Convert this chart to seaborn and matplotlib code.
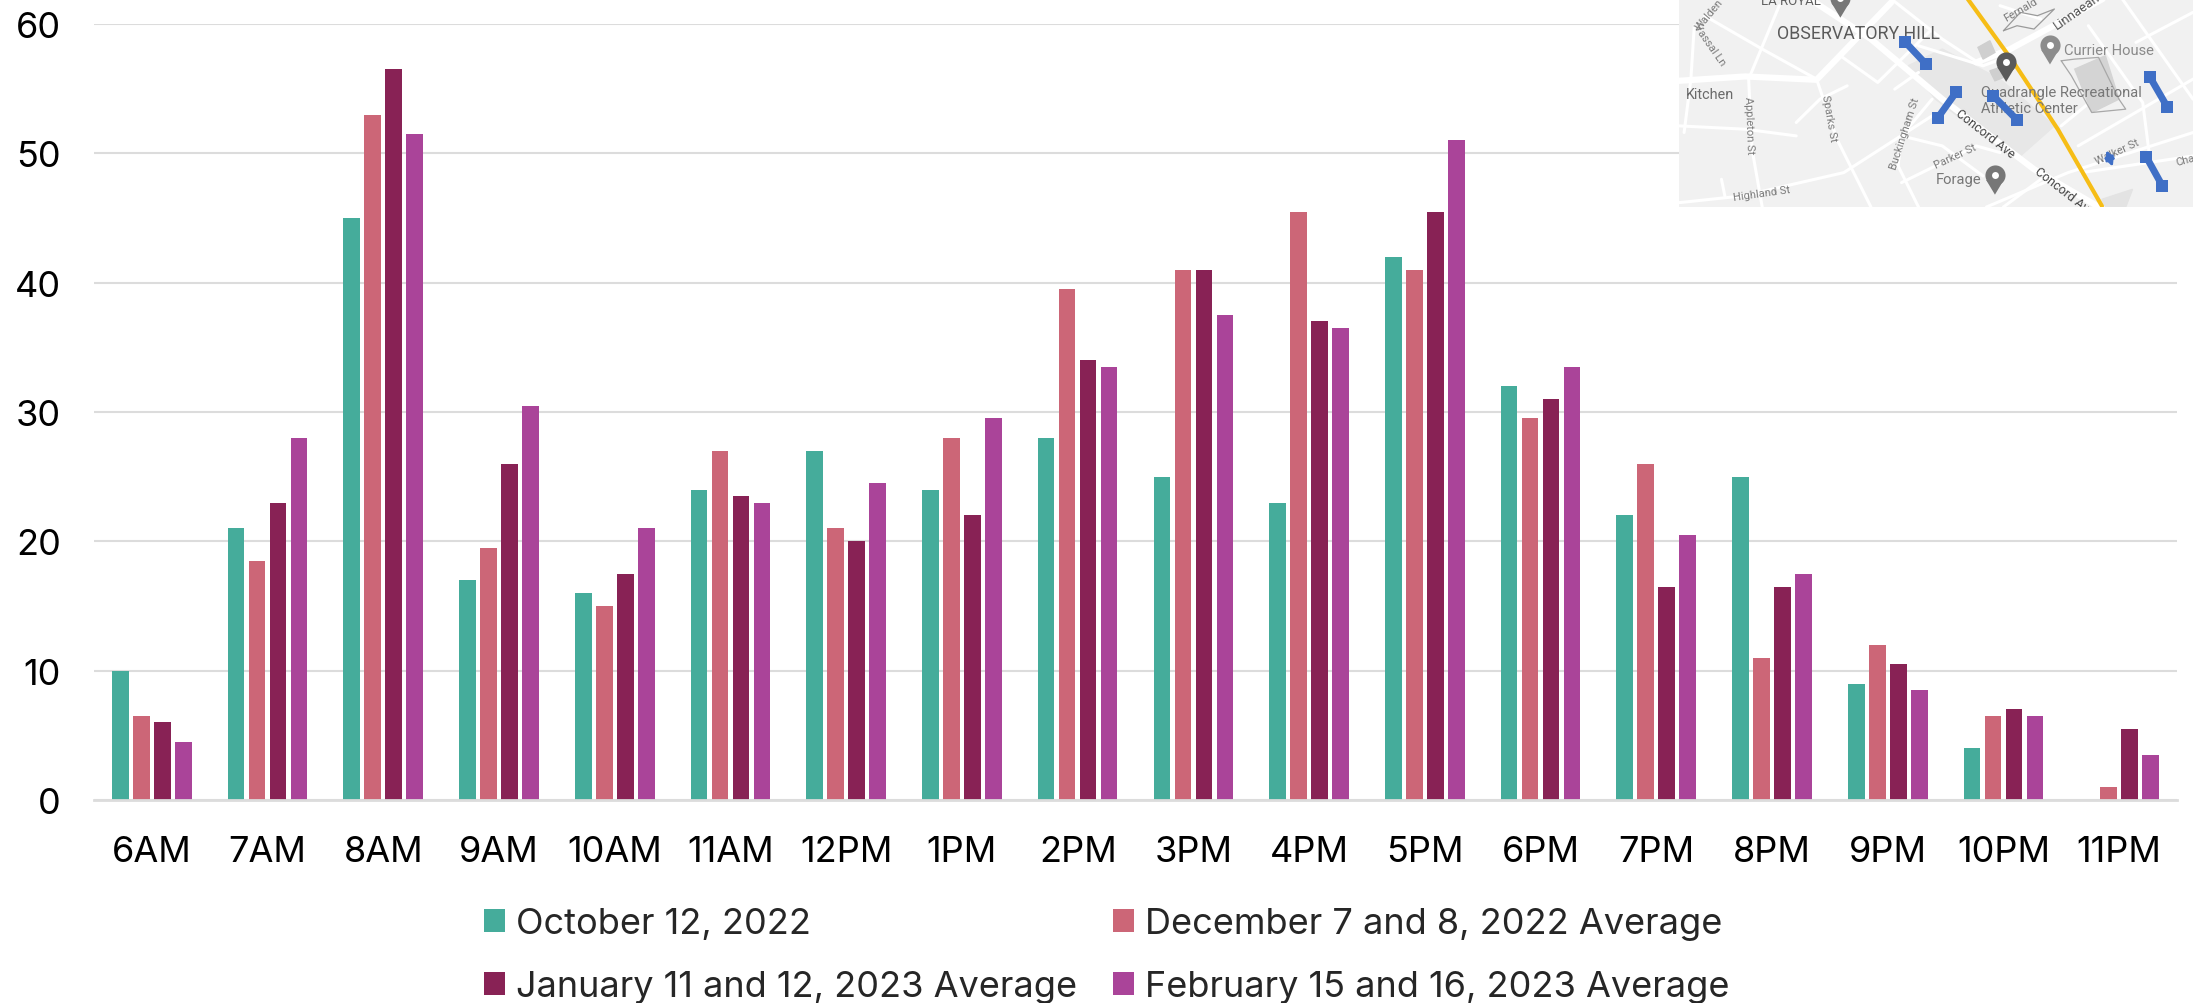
import numpy as np
import pandas as pd
import matplotlib
matplotlib.use("Agg")
import matplotlib.pyplot as plt
import seaborn as sns

hours = ["6AM", "7AM", "8AM", "9AM", "10AM", "11AM", "12PM", "1PM", "2PM",
         "3PM", "4PM", "5PM", "6PM", "7PM", "8PM", "9PM", "10PM", "11PM"]
oct_2022 = [10, 21, 45, 17, 16, 24, 27, 24, 28, 25, 23, 42, 32, 22, 25, 9, 4, np.nan]
dec_2022 = [6.5, 18.5, 53, 19.5, 15, 27, 21, 28, 39.5, 41, 45.5, 41, 29.5, 26, 11, 12, 6.5, 1]
jan_2023 = [6, 23, 56.5, 26, 17.5, 23.5, 20, 22, 34, 41, 37, 45.5, 31, 16.5, 16.5, 10.5, 7, 5.5]
feb_2023 = [4.5, 28, 51.5, 30.5, 21, 23, 24.5, 29.5, 33.5, 37.5, 36.5, 51, 33.5, 20.5, 17.5, 8.5, 6.5, 3.5]
series_names = ["October 12, 2022", "December 7 and 8, 2022 Average",
                "January 11 and 12, 2023 Average", "February 15 and 16, 2023 Average"]
colors = ["#45AC9B", "#CC6677", "#882255", "#AA4499"]
yticks = [0, 10, 20, 30, 40, 50, 60]

W, H = 2193, 1004

sns.set_theme(style="white")
plt.rcParams["font.family"] = ["Inter", "DejaVu Sans"]


def px_axes(fig, left, top, right, bottom):
    return fig.add_axes([left / W, 1 - bottom / H, (right - left) / W, (bottom - top) / H])


def draw_map(ax):
    # inset map, coordinates are pixels of the zoomed crop
    ax.set_facecolor("#f1f1f1")
    ax.set_xlim(55, 1568); ax.set_ylim(623, 0)
    ax.set_xticks([]); ax.set_yticks([])
    for s in ax.spines.values():
        s.set_visible(False)
    thin = [
        [(55, 380), (250, 390), (400, 410)], [(260, 240), (270, 450), (300, 623)],
        [(130, 50), (300, 150), (460, 240)], [(100, 80), (90, 240), (70, 400)],
        [(350, 20), (260, 240)], [(460, 240), (520, 420), (620, 623)],
        [(55, 610), (240, 590), (540, 520), (800, 350)], [(180, 540), (190, 590)],
        [(700, 500), (710, 410), (830, 440), (950, 530)], [(700, 500), (760, 623)],
        [(710, 550), (930, 440), (1000, 460)], [(710, 410), (800, 300)],
        [(530, 170), (640, 250), (720, 170), (800, 90)], [(690, 270), (760, 220)],
        [(960, 623), (1200, 520), (1568, 400)], [(1230, 440), (1568, 240)],
        [(1260, 80), (1420, 310), (1440, 470)], [(1240, 520), (1568, 470)],
        [(1360, 0), (1568, 300)], [(1400, 130), (1568, 40)], [(400, 370), (470, 300), (550, 260)],
        [(760, 140), (950, 200), (1030, 170)], [(680, 0), (830, 120), (950, 200)],
        [(1010, 623), (1120, 540)], [(1180, 380), (1300, 280)], [(1000, 20), (1120, 60)],
    ]
    for road in thin:
        xs, ys = zip(*road)
        ax.plot(xs, ys, color="white", lw=2.2, solid_capstyle="round", zorder=1)
    wide = [
        [(440, 0), (620, 120), (830, 300), (1100, 510), (1320, 640)],
        [(55, 245), (250, 232), (460, 242), (680, 10)],
        [(930, 190), (1030, 150), (1320, -10)],
    ]
    for road in wide:
        xs, ys = zip(*road)
        ax.plot(xs, ys, color="white", lw=4.5, solid_capstyle="round", zorder=2)
    # buildings and campus patches
    ax.fill([730, 830, 1000, 1160, 1060, 900, 810], [200, 150, 240, 380, 470, 370, 300], color="#e7e7e7", zorder=0.5)
    ax.fill([935, 970, 985, 950], [145, 125, 160, 180], color="#cfcfcf", zorder=3)
    ax.fill([970, 1000, 1010, 985], [215, 205, 235, 245], color="#cfcfcf", zorder=3)
    ax.fill([1220, 1310, 1350, 1270], [210, 170, 300, 340], color="#d4d4d4", zorder=3)
    ax.fill([1300, 1390, 1370, 1310], [600, 570, 623, 623], color="#e3e3e3", zorder=0.5)
    ax.plot([1010, 1060, 1110, 1160, 1100, 1050, 1010], [95, 40, 50, 30, 90, 80, 95], color="#9a9a9a", lw=0.9, zorder=3)
    ax.plot([1180, 1220, 1290, 1350, 1370, 1270, 1210, 1180], [185, 180, 175, 300, 330, 340, 230, 185], color="#a8a8a8", lw=0.9, zorder=3)
    # transit line
    ax.plot([905, 1040, 1170, 1300], [0, 190, 390, 620], color="#F6BD16", lw=3, zorder=4)
    # place labels
    labels = [
        (295, 5, "LA ROYAL", 9.5, "#5f5f5f", 0, "left"),
        (342, 103, "OBSERVATORY HILL", 12.8, "#5a5a5a", 0, "left"),
        (75, 286, "Kitchen", 10.4, "#6a6a6a", 0, "left"),
        (1188, 154, "Currier House", 10.6, "#8a8a8a", 0, "left"),
        (945, 280, "Quadrangle Recreational", 10.6, "#777777", 0, "left"),
        (945, 327, "Athletic Center", 10.6, "#777777", 0, "left"),
        (812, 538, "Forage", 10.6, "#777777", 0, "left"),
        (145, 45, "Walden", 8, "#7a7a7a", 50, "center"),
        (145, 135, "Vassal Ln", 8, "#7a7a7a", -55, "center"),
        (262, 375, "Appleton St", 8, "#7a7a7a", -88, "center"),
        (497, 355, "Sparks St", 8, "#7a7a7a", -80, "center"),
        (720, 400, "Buckingham St", 8, "#7a7a7a", 72, "center"),
        (868, 468, "Parker St", 8, "#7a7a7a", 25, "center"),
        (297, 580, "Highland St", 8, "#7a7a7a", 8, "center"),
        (1345, 455, "Walker St", 8, "#7a7a7a", 25, "center"),
        (1060, 30, "Fernald", 8, "#7a7a7a", 30, "center"),
        (1225, 35, "Linnaean", 9.5, "#555555", 35, "center"),
        (955, 403, "Concord Ave", 9, "#444444", -38, "center"),
        (1190, 575, "Concord Ave", 9, "#444444", -38, "center"),
        (1518, 490, "Chauncy", 8, "#7a7a7a", 15, "left"),
    ]
    for x, y, txt, size, col, rot, ha in labels:
        ax.text(x, y, txt, fontsize=size, color=col, rotation=rot, ha=ha, va="center",
                family="Roboto", clip_on=True, zorder=6, rotation_mode="anchor")
    # pins: head centre then pointed tip
    for x, y, col in [(1018, 190, "#5a5a5a"), (1147, 138, "#8c8c8c"), (530, -2, "#777777"), (985, 528, "#777777")]:
        ax.fill([x - 26, x + 26, x], [y + 14, y + 14, y + 58], color=col, lw=0, zorder=5)
        ax.plot(x, y, marker="o", ms=14.5, color=col, mew=0, zorder=5)
        ax.plot(x, y, marker="o", ms=5, color="white", mew=0, zorder=5.5)
    # blue segments
    segs = [[(720, 128), (782, 195)], [(870, 280), (816, 357)], [(980, 290), (1050, 362)],
            [(1442, 235), (1492, 323)], [(1430, 472), (1478, 560)]]
    for seg in segs:
        xs, ys = zip(*seg)
        ax.plot(xs, ys, color="#3F6FC6", lw=5, marker="s", ms=8.5, mew=0, zorder=7)
    ax.annotate("", xy=(1310, 445), xytext=(1335, 510), zorder=7,
                arrowprops=dict(arrowstyle="<|-|>", color="#3F6FC6", lw=2, mutation_scale=13))


df = pd.DataFrame({"hour": hours, series_names[0]: oct_2022, series_names[1]: dec_2022,
                   series_names[2]: jan_2023, series_names[3]: feb_2023})
long_df = df.melt(id_vars="hour", var_name="date", value_name="count")

fig = plt.figure(figsize=(W / 100, H / 100), dpi=100)
ax = px_axes(fig, 94, 25, 2177, 801)

sns.barplot(data=long_df, x="hour", y="count", hue="date", order=hours, hue_order=series_names,
            palette=colors, saturation=1, width=0.726, gap=0.205, errorbar=None, linewidth=0, ax=ax)

ax.set_xlim(-0.5, len(hours) - 0.5)
ax.set_ylim(0, 60)
ax.set_yticks(yticks)
ax.set_xlabel(""); ax.set_ylabel("")
ax.grid(axis="y", color="#DCDCDC", lw=1.5)
ax.set_axisbelow(True)
sns.despine(ax=ax, left=True, right=True, top=True, bottom=False)
ax.spines["bottom"].set_color("#DCDCDC")
ax.spines["bottom"].set_linewidth(2)
ax.tick_params(axis="x", length=0, pad=25, labelsize=26, colors="black")
ax.tick_params(axis="y", length=0, pad=24, labelsize=26, colors="black")

# the legend reads across the rows: its columns are Oct/Jan then Dec/Feb
handles, labels = ax.get_legend_handles_labels()
order = [0, 2, 1, 3]
ax.legend([handles[i] for i in order], [labels[i] for i in order], loc="upper left",
          bbox_to_anchor=(484 / W, 1 - 908 / H), bbox_transform=fig.transFigure,
          ncol=2, frameon=False, fontsize=26, handlelength=0.58, handleheight=0.6,
          handletextpad=0.3, columnspacing=1.0, labelspacing=0.83, borderpad=0, borderaxespad=0)

map_ax = px_axes(fig, 1679, 0, W, 208)
draw_map(map_ax)

fig.savefig("out.png", dpi=100)
